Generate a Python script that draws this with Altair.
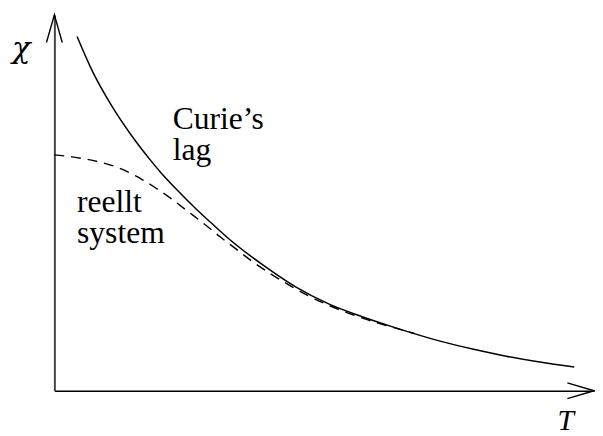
import altair as alt
import pandas as pd

# Axis extents (chart units)
T_MAX = 547
CHI_MAX = 381

# Curie's law (solid)
curie_T = [23, 38, 58, 78, 98, 108, 122, 145, 158, 178, 212, 245, 278, 312, 342, 392, 425, 458, 492, 527]
curie_chi = [359, 325, 289, 259, 233, 221, 206, 183, 171, 153, 127, 105, 88, 75, 65, 50, 42, 35, 29, 24]

# Real system (dashed)
real_T = [0, 18, 45, 65, 82, 102, 118, 135, 152, 168, 185, 202, 220, 238, 258, 277, 297, 317, 337, 365]
real_chi = [239, 237, 232, 226, 218, 206, 195, 182, 169, 156, 143, 130, 118, 107, 96, 87, 79, 72, 66, 58]

# Labels (two-line, split on "\n")
label_text = ["Curie\u2019s\nlag", "reellt\nsystem"]
label_T = [120, 23]
label_chi = [265, 181]

axis_text = ["\u03c7", "T"]
axis_T = [-43, 510]
axis_chi = [337, -40]

xs = alt.Scale(domain=[0, T_MAX], nice=False, zero=False)
ys = alt.Scale(domain=[0, CHI_MAX], nice=False, zero=False)

xaxis = alt.Axis(domain=True, domainColor="black", domainWidth=1.5, ticks=False,
                 labels=False, grid=False, title=None)
yaxis = alt.Axis(domain=True, domainColor="#444444", domainWidth=2, ticks=False,
                 labels=False, grid=False, title=None)

def X():
    return alt.X("T:Q", scale=xs, axis=xaxis)

def Y():
    return alt.Y("chi:Q", scale=ys, axis=yaxis)

curie = pd.DataFrame({"T": curie_T, "chi": curie_chi})
real = pd.DataFrame({"T": real_T, "chi": real_chi})
labels = pd.DataFrame({"T": label_T, "chi": label_chi, "txt": label_text})
chi_lab = pd.DataFrame({"T": axis_T[:1], "chi": axis_chi[:1], "txt": axis_text[:1]})
t_lab = pd.DataFrame({"T": axis_T[1:], "chi": axis_chi[1:], "txt": axis_text[1:]})

solid = alt.Chart(curie).mark_line(color="black", strokeWidth=1.5, interpolate="monotone").encode(
    x=X(), y=Y(), order="T:Q")

dashed = alt.Chart(real).mark_line(color="black", strokeWidth=1.4, strokeDash=[10, 7],
                                    interpolate="monotone").encode(
    x=X(), y=Y(), order="T:Q")

arrows_y = alt.Chart(pd.DataFrame({"T": [0], "chi": [CHI_MAX]})).mark_point(
    shape="M-0.2857,1 L0,0 L0.2857,1", size=3136, filled=False, stroke="black",
    strokeWidth=1.4, opacity=1).encode(x=X(), y=Y())

arrows_x = alt.Chart(pd.DataFrame({"T": [T_MAX], "chi": [0]})).mark_point(
    shape="M-1,-0.296 L0,0 L-1,0.296", size=2916, filled=False, stroke="black",
    strokeWidth=1.4, opacity=1).encode(x=X(), y=Y())

txt = alt.Chart(labels).mark_text(align="left", baseline="alphabetic", lineBreak="\n",
                                  lineHeight=31, font="Liberation Serif", fontSize=32,
                                  color="black").encode(
    x=X(), y=Y(), text="txt:N")

chitxt = alt.Chart(chi_lab).mark_text(align="left", baseline="alphabetic",
                                      font="DejaVu Serif", fontSize=31, fontStyle="italic",
                                      color="black").encode(
    x=X(), y=Y(), text="txt:N")

ttxt = alt.Chart(t_lab).mark_text(align="left", baseline="alphabetic",
                                  font="Liberation Serif", fontSize=30, fontStyle="italic",
                                  color="black").encode(
    x=X(), y=Y(), text="txt:N")

chart = alt.layer(solid, dashed, arrows_y, arrows_x, txt, chitxt, ttxt).properties(
    width=T_MAX, height=CHI_MAX,
    autosize=alt.AutoSizeParams(type="none"),
    padding={"left": 47, "top": 4, "right": 1, "bottom": 45},
    background="white",
).configure_view(stroke=None)

chart.save("out.html", embed_options={"renderer": "svg", "actions": False})
